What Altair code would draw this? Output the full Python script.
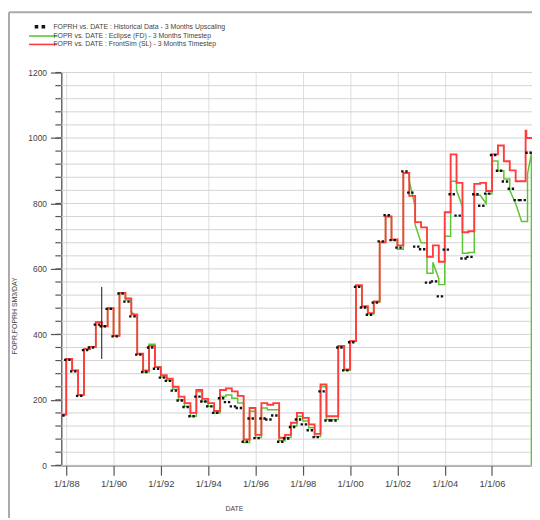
import altair as alt
import pandas as pd

# ---------------- data ----------------
start_year = 1987.75          # first quarter start
quarter = 0.25

frontsim = [155, 325, 290, 215, 355, 362, 437, 425, 480, 396,
            527, 510, 461, 341, 290, 365, 300, 275, 265, 240,
            210, 190, 160, 230, 203, 190, 166, 230, 235, 226,
            212, 79, 175, 93, 190, 185, 190, 84, 93, 130,
            160, 145, 125, 96, 247, 150, 150, 365, 293, 380,
            550, 486, 465, 501, 682, 760, 690, 672, 893, 823,
            743, 727, 637, 672, 622, 773, 950, 863, 712, 715,
            860, 863, 838, 950, 977, 929, 901, 868, 868, 1000]
frontsim_blip_date = [2007.42]     # short spike inside the last quarters
frontsim_blip_value = [1022]

# Eclipse: value at the start and at the end of each quarter (it slopes in places)
eclipse_q_start = [155, 325, 290, 215, 355, 362, 437, 425, 480, 396,
                   527, 505, 470, 341, 285, 370, 300, 270, 260, 232,
                   200, 180, 150, 225, 195, 180, 160, 210, 215, 205,
                   190, 70, 165, 85, 175, 170, 170, 75, 85, 120,
                   150, 135, 115, 88, 240, 140, 140, 362, 290, 378,
                   548, 484, 462, 498, 680, 760, 688, 660, 893, 870,
                   735, 680, 587, 620, 552, 700, 868, 840, 648, 650,
                   825, 825, 830, 930, 900, 875, 840, 800, 745, 890]
eclipse_q_end = [155, 325, 290, 215, 355, 362, 437, 425, 480, 396,
                 527, 505, 450, 341, 285, 370, 300, 270, 260, 232,
                 200, 180, 150, 225, 195, 180, 160, 210, 215, 205,
                 190, 70, 165, 85, 175, 170, 170, 75, 85, 120,
                 150, 135, 115, 88, 240, 140, 140, 362, 290, 378,
                 548, 484, 462, 498, 680, 760, 688, 660, 893, 790,
                 680, 680, 587, 570, 552, 700, 868, 790, 648, 650,
                 825, 800, 830, 930, 900, 875, 800, 745, 745, 953]

historical = [152, 322, 287, 212, 352, 360, 430, 425, 478, 394,
              525, 500, 455, 338, 285, 360, 295, 268, 258, 228,
              198, 178, 150, 210, 195, 180, 160, 205, 193, 180,
              175, 72, 143, 83, 143, 140, 152, 72, 82, 117,
              140, 125, 107, 86, 226, 137, 137, 360, 290, 376,
              545, 482, 460, 497, 684, 764, 688, 665, 898, 833,
              668, 660, 558, 562, 516, 659, 828, 763, 632, 637,
              828, 793, 830, 948, 900, 867, 845, 810, 810, 955]

spike_date = [1989.5]
spike_low = [325]
spike_high = [545]

eclipse_stop = 2007.665        # Eclipse run stops here (drops to 0)
eclipse_stop_value = 0

series_names = ["FOPRH vs. DATE : Historical Data - 3 Months Upscaling",
                "FOPR vs. DATE : Eclipse (FD)    - 3 Months Timestep",
                "FOPR vs. DATE : FrontSim (SL) - 3 Months Timestep"]
series_colors = ["#111111", "#5cc534", "#ff3b3b"]

x_tick_years = [1988, 1990, 1992, 1994, 1996, 1998, 2000, 2002, 2004, 2006]
x_tick_labels = ["1/1/88", "1/1/90", "1/1/92", "1/1/94", "1/1/96",
                 "1/1/98", "1/1/00", "1/1/02", "1/1/04", "1/1/06"]
y_major = [0, 200, 400, 600, 800, 1000, 1200]
y_minor = [0, 40, 80, 120, 160, 200, 240, 280, 320, 360, 400, 440, 480,
           520, 560, 600, 640, 680, 720, 760, 800, 840, 880, 920, 960,
           1000, 1040, 1080, 1120, 1160, 1200]

# ---------------- tables ----------------
n = len(frontsim)
dates = [start_year + quarter * i for i in range(n)]

fs_dates = dates[:-1] + frontsim_blip_date + [2007.45, start_year + quarter * n]
fs_vals = frontsim[:-1] + frontsim_blip_value + [frontsim[-1], frontsim[-1]]
df_fs = pd.DataFrame({"date": fs_dates, "value": fs_vals, "series": series_names[2]})
df_fs = df_fs.sort_values("date")

ec_rows = []
for i, d in enumerate(dates):
    ec_rows.append((d, eclipse_q_start[i]))
    end_d = min(d + quarter, eclipse_stop)
    ec_rows.append((end_d, eclipse_q_end[i]))
ec_rows.append((eclipse_stop, eclipse_stop_value))
df_ec = pd.DataFrame(ec_rows, columns=["date", "value"])
df_ec["idx"] = range(len(df_ec))
df_ec["series"] = series_names[1]

df_hi = pd.DataFrame({"date": [d + quarter / 2 for d in dates],
                      "value": historical,
                      "series": series_names[0]})
df_sp = pd.DataFrame({"date": spike_date, "low": spike_low, "high": spike_high})
df_grid = pd.DataFrame({"value": y_minor})

label_map = "{" + ",".join(f"'{y}':'{l}'" for y, l in zip(x_tick_years, x_tick_labels)) + "}"

x_dom = [1987.79, 2007.69]
y_dom = [0, 1200]

color_scale = alt.Scale(domain=series_names, range=series_colors)
dots_path = "M-2.3,-0.3h0.6v0.6h-0.6z M-0.2,-0.3h0.6v0.6h-0.6z"
line_path = "M-4.3,0H4.3"
shape_scale = alt.Scale(domain=series_names, range=[dots_path, line_path, line_path])

x_scale = alt.Scale(domain=x_dom, nice=False, zero=False)
y_scale = alt.Scale(domain=y_dom, nice=False)

x_axis = alt.Axis(values=x_tick_years, labelExpr=f"{label_map}[toString(datum.value)]",
                  title="DATE", grid=True, tickSize=10, labelPadding=3,
                  labelFontSize=9.5, labelOverlap=False,
                  titleX=175, titleY=40, titleAlign="center")
y_axis = alt.Axis(values=y_major, format="d", grid=False, tickSize=11, labelPadding=4,
                  labelOverlap=False, title="FOPR,FOPRH   SM3/DAY",
                  titleX=-44, titleY=246, titleAlign="center")

legend = alt.Legend(title=None, orient="none", legendX=-23, legendY=-51,
                    labelFontSize=7, symbolSize=44, symbolStrokeWidth=1.6,
                    labelOffset=6, rowPadding=0.5, labelColor="#444", labelLimit=0)

hgrid = alt.Chart(df_grid).mark_rule(color="#d2d2d2", strokeWidth=1).encode(
    y=alt.Y("value:Q", scale=y_scale, axis=y_axis))
minor_ticks = alt.Chart(df_grid).mark_rule(color="#555555", strokeWidth=1.2, clip=False).encode(
    y="value:Q", x=alt.value(-6), x2=alt.value(0))

green = alt.Chart(df_ec).mark_line(interpolate="linear", strokeWidth=1.5, clip=True).encode(
    x=alt.X("date:Q", scale=x_scale, axis=x_axis), y="value:Q", order="idx:Q",
    color=alt.Color("series:N", scale=color_scale, legend=legend))
red = alt.Chart(df_fs).mark_line(interpolate="step-after", strokeWidth=1.9, clip=True).encode(
    x="date:Q", y="value:Q", order="date:Q",
    color=alt.Color("series:N", scale=color_scale, legend=legend))
spike = alt.Chart(df_sp).mark_rule(color="#111111", strokeWidth=1).encode(
    x="date:Q", y="low:Q", y2="high:Q")
points = alt.Chart(df_hi).mark_point(filled=False, size=16, strokeWidth=1.2, opacity=1, clip=True).encode(
    x="date:Q", y="value:Q",
    color=alt.Color("series:N", scale=color_scale, legend=legend),
    shape=alt.Shape("series:N", scale=shape_scale, legend=legend))

frame_left = alt.Chart(df_sp).mark_rule(color="#aaaaaa", strokeWidth=2, clip=False).encode(
    x=alt.value(-53), y=alt.value(-61), y2=alt.value(470))
frame_top = alt.Chart(df_sp).mark_rule(color="#aaaaaa", strokeWidth=2, clip=False).encode(
    x=alt.value(-53), x2=alt.value(490), y=alt.value(-61))

chart = alt.layer(hgrid, minor_ticks, green, red, spike, points, frame_left, frame_top).properties(
    width=477, height=398,
    autosize=alt.AutoSizeParams(type="none"),
    padding={"left": 54, "top": 62, "right": 0, "bottom": 50},
).configure_view(stroke=None).configure_axis(
    labelFont="Liberation Sans", labelFontSize=8.5, labelColor="#444",
    titleFont="Liberation Sans", titleFontSize=7, titleFontWeight="normal", titleColor="#444",
    domainColor="#666", domainWidth=1.5, tickColor="#555", tickWidth=1.2,
    gridColor="#dddddd", gridWidth=1,
).configure_legend(labelFont="Liberation Sans")

chart.save("out.html", embed_options={"renderer": "svg", "actions": False})
